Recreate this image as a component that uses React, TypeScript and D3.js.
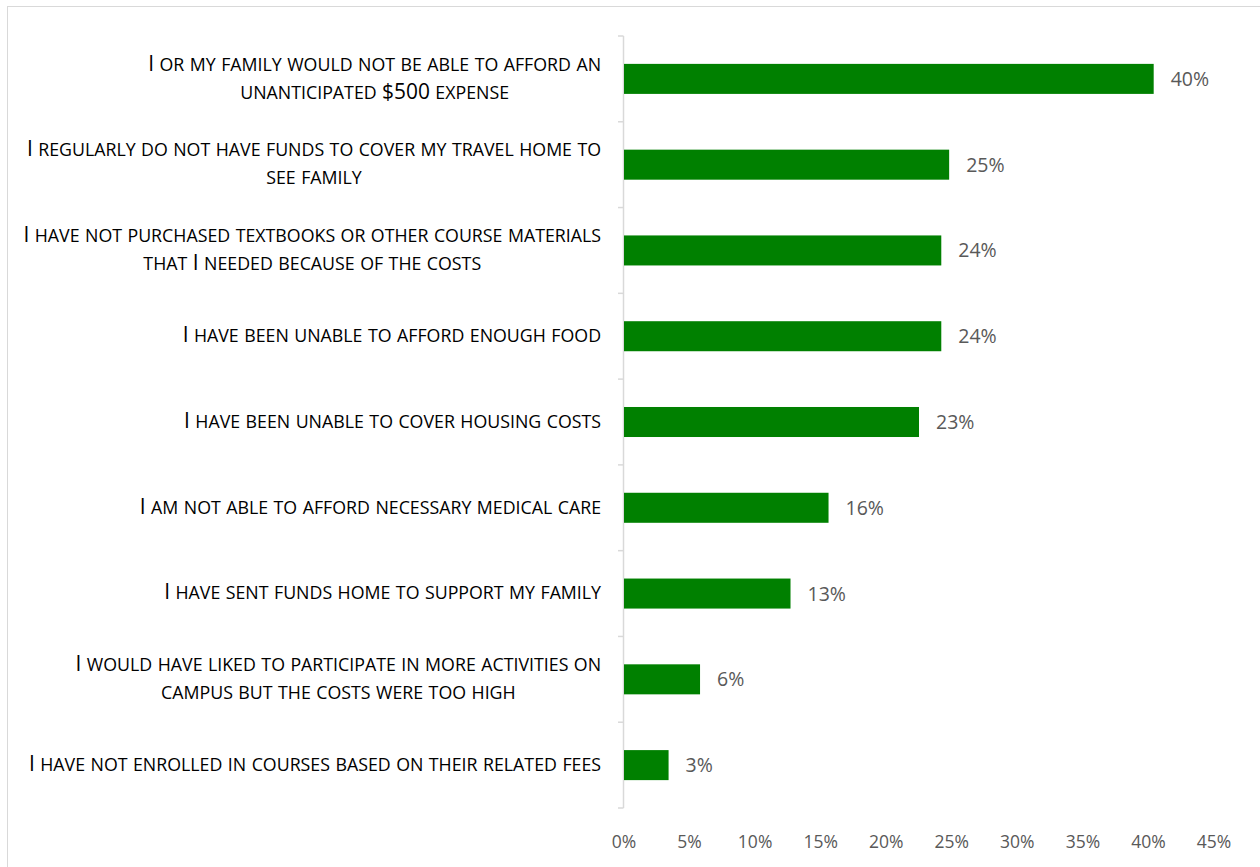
import React from "react";
import * as d3 from "d3";

const categories: string[][] = [
  ["I or my family would not be able to afford an", "unanticipated $500 expense"],
  ["I regularly do not have funds to cover my travel home to", "see family"],
  ["I have not purchased textbooks or other course materials", "that I needed because of the costs"],
  ["I have been unable to afford enough food"],
  ["I have been unable to cover housing costs"],
  ["I am not able to afford necessary medical care"],
  ["I have sent funds home to support my family"],
  ["I would have liked to participate in more activities on", "campus but the costs were too high"],
  ["I have not enrolled in courses based on their related fees"],
];
const values: number[] = [40.4, 24.8, 24.2, 24.2, 22.5, 15.6, 12.7, 5.8, 3.4];
const valueLabels: string[] = ["40%", "25%", "24%", "24%", "23%", "16%", "13%", "6%", "3%"];
const ticks: number[] = [0, 5, 10, 15, 20, 25, 30, 35, 40, 45];

const FONT = "'Open Sans'";
const BIG = 20.9;
const SMALL = 17.8;

type Run = { t: string; big: boolean };
function runs(s: string): Run[] {
  const out: Run[] = [];
  for (const ch of s) {
    const big = !(ch >= "a" && ch <= "z");
    const t = big ? ch : ch.toUpperCase();
    if (out.length && out[out.length - 1].big === big) out[out.length - 1].t += t;
    else out.push({ t, big });
  }
  return out;
}

let ctx: CanvasRenderingContext2D | null = null;
function measure(s: string): number {
  if (!ctx) ctx = document.createElement("canvas").getContext("2d");
  if (!ctx) return s.length * 11;
  let w = 0;
  for (const r of runs(s)) {
    ctx.font = `${r.big ? BIG : SMALL}px ${FONT}`;
    w += ctx.measureText(r.t).width;
  }
  return w;
}

export default function App() {
  const W = 1260, H = 867;
  const x = d3.scaleLinear().domain([0, 45]).range([624, 1214]);
  const y = d3.scaleBand<number>().domain(d3.range(categories.length)).range([36, 808]).paddingInner(0.65).paddingOuter(0.325);
  const step = y.step();
  const font = "'Open Sans', 'Noto Sans', sans-serif";
  const right = 601;
  return (
    <svg width={W} height={H} style={{ position: "absolute", left: 0, top: 0 }} fontFamily={font}>
      <rect x={0} y={0} width={W} height={H} fill="#fff" />
      <rect x={7.5} y={6.5} width={W + 10} height={H + 10} fill="none" stroke="#d9d9d9" strokeWidth={1} />
      <line x1={623.5} x2={623.5} y1={36} y2={808} stroke="#d9d9d9" strokeWidth={1.5} />
      {d3.range(categories.length + 1).map((i) => (
        <line key={i} x1={618} x2={623.5} y1={36 + i * step} y2={36 + i * step} stroke="#d9d9d9" strokeWidth={1.5} />
      ))}
      {values.map((v, i) => (
        <rect key={i} x={x(0)} y={y(i)!} width={x(v) - x(0)} height={y.bandwidth()} fill="#008000" />
      ))}
      {values.map((v, i) => (
        <text key={i} x={x(v) + 17} y={y(i)! + y.bandwidth() / 2} dy="0.36em" fontSize={19.5} fill="#595959">
          {valueLabels[i]}
        </text>
      ))}
      {categories.map((lines, i) => {
        const cy = y(i)! + y.bandwidth() / 2;
        const lh = 28;
        const start = cy - ((lines.length - 1) * lh) / 2;
        const widths = lines.map(measure);
        const maxW = Math.max(...widths);
        const center = right - maxW / 2;
        return (
          <g key={i}>
            {lines.map((l, j) => (
              <text key={j} x={center} y={start + j * lh} dy="0.36em" textAnchor="middle" fill="#000">
                {runs(l).map((r, k) => (
                  <tspan key={k} fontSize={r.big ? BIG : SMALL}>{r.t}</tspan>
                ))}
              </text>
            ))}
          </g>
        );
      })}
      {ticks.map((t) => (
        <text key={t} x={x(t)} y={842} dy="0.35em" textAnchor="middle" fontSize={17.5} fill="#595959">
          {t}%
        </text>
      ))}
    </svg>
  );
}
